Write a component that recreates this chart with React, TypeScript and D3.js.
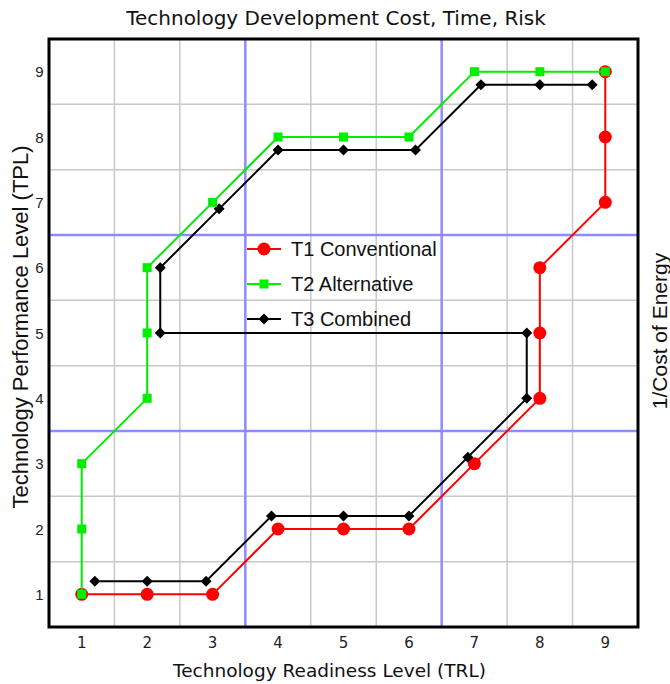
import React from "react";
import * as d3 from "d3";

const title = "Technology Development Cost, Time, Risk";
const xLabel = "Technology Readiness Level (TRL)";
const yLabel = "Technology Performance Level (TPL)";
const rightLabel = "1/Cost of Energy";
const ticks = [1, 2, 3, 4, 5, 6, 7, 8, 9];
const gridHalf = [1.5, 2.5, 3.5, 4.5, 5.5, 6.5, 7.5, 8.5];
const blueGrid = [3.5, 6.5];

const t1x = [1, 2, 3, 4, 5, 6, 7, 8, 8, 8, 9, 9, 9];
const t1y = [1, 1, 1, 2, 2, 2, 3, 4, 5, 6, 7, 8, 9];
const t2x = [1, 1, 1, 2, 2, 2, 3, 4, 5, 6, 7, 8, 9];
const t2y = [1, 2, 3, 4, 5, 6, 7, 8, 8, 8, 9, 9, 9];
const t3x = [1.2, 2, 2.9, 3.9, 5, 6, 6.9, 7.8, 7.8, 2.2, 2.2, 3.1, 4, 5, 6.1, 7.1, 8, 8.8];
const t3y = [1.2, 1.2, 1.2, 2.2, 2.2, 2.2, 3.1, 4, 5, 5, 6, 6.9, 7.8, 7.8, 7.8, 8.8, 8.8, 8.8];

const seriesNames = ["T1 Conventional", "T2 Alternative", "T3 Combined"];
const seriesColors = ["#ff0000", "#00ee00", "#000000"];

const W = 670, H = 684;
const L = 49, R = 638, T = 39, B = 627;
const VFONT = "DejaVu Sans, Verdana, sans-serif";
const AFONT = "Liberation Sans, Arial, sans-serif";

function Marker({ kind, x, y, color }: { kind: number; x: number; y: number; color: string }) {
  if (kind === 0) return <circle cx={x} cy={y} r={6.5} fill={color} />;
  if (kind === 1) return <rect x={x - 4.5} y={y - 4.5} width={9} height={9} fill={color} />;
  return <path d={`M${x},${y - 5.5}L${x + 5.5},${y}L${x},${y + 5.5}L${x - 5.5},${y}Z`} fill={color} />;
}

export default function App() {
  const xs = d3.scaleLinear().domain([0.5, 9.5]).range([L, R]);
  const ys = d3.scaleLinear().domain([0.5, 9.5]).range([B, T]);
  const data = [
    t1x.map((x, i) => [x, t1y[i]]),
    t2x.map((x, i) => [x, t2y[i]]),
    t3x.map((x, i) => [x, t3y[i]]),
  ];
  const line = d3.line<number[]>().x(d => xs(d[0])).y(d => ys(d[1]));
  const order = [0, 2, 1];
  return (
    <svg width={W} height={H} style={{ position: "absolute", left: 0, top: 0, background: "#fff" }}>
      <rect width={W} height={H} fill="#fff" />
      <text x={336} y={25} fontSize={20} fontFamily={VFONT} textAnchor="middle" fill="#111">{title}</text>
      {gridHalf.filter(v => !blueGrid.includes(v)).map(v => (
        <g key={"g" + v}>
          <line x1={xs(v)} x2={xs(v)} y1={T} y2={B} stroke="#c8c8c8" strokeWidth={1.5} />
          <line x1={L} x2={R} y1={ys(v)} y2={ys(v)} stroke="#c8c8c8" strokeWidth={1.5} />
        </g>
      ))}
      {blueGrid.map(v => (
        <g key={"b" + v}>
          <line x1={xs(v)} x2={xs(v)} y1={T} y2={B} stroke="#8c8cff" strokeWidth={2.5} />
          <line x1={L} x2={R} y1={ys(v)} y2={ys(v)} stroke="#8c8cff" strokeWidth={2.5} />
        </g>
      ))}
      {order.map(s => (
        <g key={"s" + s}>
          <path d={line(data[s]) || ""} fill="none" stroke={seriesColors[s]} strokeWidth={2} />
          {data[s].map((d, i) => (
            <Marker key={i} kind={s} x={xs(d[0])} y={ys(d[1])} color={seriesColors[s]} />
          ))}
        </g>
      ))}
      <rect x={L} y={T} width={R - L} height={B - T} fill="none" stroke="#000" strokeWidth={3} />
      {ticks.map(t => (
        <text key={"x" + t} x={xs(t)} y={648} fontSize={15} fontFamily={VFONT} textAnchor="middle" fill="#222">{t}</text>
      ))}
      {ticks.map(t => (
        <text key={"y" + t} x={39.5} y={ys(t) + 5.5} fontSize={15} fontFamily={AFONT} textAnchor="middle" fill="#222">{t}</text>
      ))}
      <text x={329.5} y={677} fontSize={18.5} fontFamily={VFONT} textAnchor="middle" fill="#111">{xLabel}</text>
      <text transform={`translate(28,327) rotate(-90)`} fontSize={22} fontFamily={AFONT} textAnchor="middle" fill="#111">{yLabel}</text>
      <text transform={`translate(667,331) rotate(-90)`} fontSize={21} fontFamily={AFONT} textAnchor="middle" fill="#111">{rightLabel}</text>
      {seriesNames.map((n, i) => {
        const ly = 249 + i * 35;
        return (
          <g key={"l" + i}>
            <line x1={247} x2={281} y1={ly} y2={ly} stroke={seriesColors[i]} strokeWidth={2} />
            <Marker kind={i} x={264} y={ly} color={seriesColors[i]} />
            <text x={291} y={ly + 7} fontSize={20} fontFamily={AFONT} fill="#111">{n}</text>
          </g>
        );
      })}
    </svg>
  );
}
